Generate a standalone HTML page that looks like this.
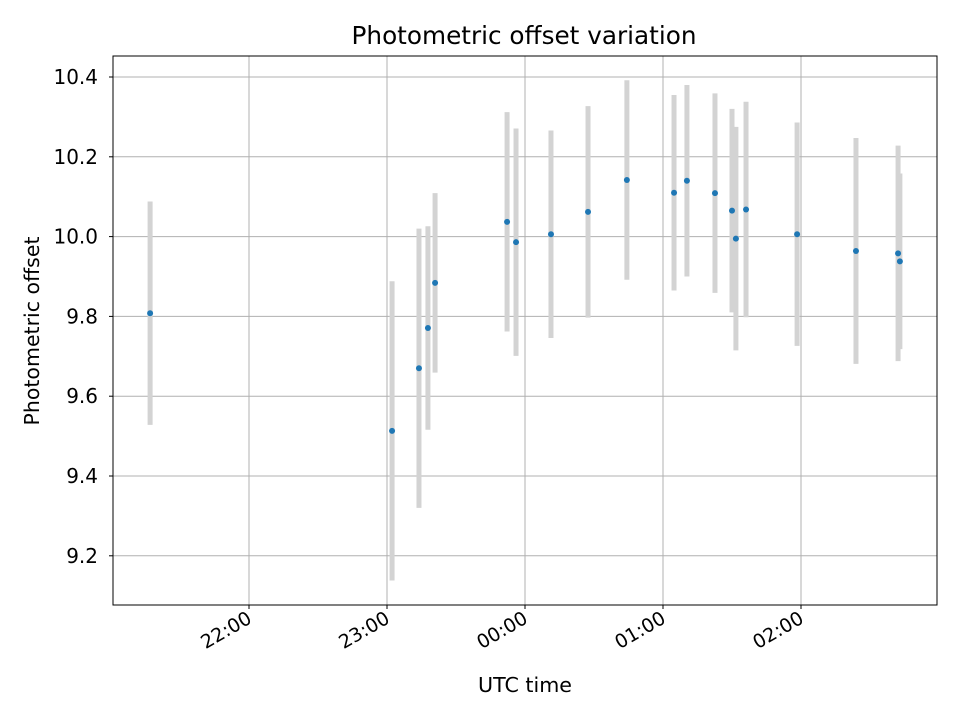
<!DOCTYPE html>
<html><head><meta charset="utf-8"><style>
body{margin:0;background:#fff;font-family:"Liberation Sans","DejaVu Sans",sans-serif}
svg text{font-family:"DejaVu Sans","Liberation Sans",sans-serif}
</style></head><body>
<svg id="chart" width="960" height="720" viewBox="0 0 960 720"></svg>
<script>
// minutes relative to 22:00 UTC
const times=[-43,62.2,73.9,77.8,80.9,112.2,116.1,131.3,147.4,164.3,184.8,190.4,202.6,210,211.7,216.1,238.3,263.9,282.2,283];
const offsets=[9.808,9.513,9.67,9.771,9.884,10.037,9.986,10.006,10.062,10.142,10.11,10.14,10.109,10.065,9.995,10.068,10.006,9.964,9.958,9.938];
const errors=[0.28,0.375,0.35,0.255,0.225,0.275,0.285,0.26,0.265,0.25,0.245,0.24,0.25,0.255,0.28,0.27,0.28,0.283,0.27,0.22];
const yTicks=[9.2,9.4,9.6,9.8,10.0,10.2,10.4];
const xTicks=[0,60,120,180,240];
const xTickLabels=["22:00","23:00","00:00","01:00","02:00"];

const L=113,R=937,T=56,B=605;
const xs=m=>249+m*138/60;
const ys=v=>77+(10.4-v)*399;
const svg=document.getElementById('chart');
const NS='http://www.w3.org/2000/svg';
function mk(tag,attrs,parent){const e=document.createElementNS(NS,tag);for(const k in attrs)e.setAttribute(k,attrs[k]);(parent||svg).appendChild(e);return e;}

yTicks.forEach((v,i)=>{
 const g=mk('line',{x1:L,x2:R,y1:ys(v),y2:ys(v),stroke:'#b0b0b0','stroke-width':1});
 
 
 const t=mk('line',{x1:L-4,x2:L,y1:ys(v),y2:ys(v),stroke:'#000'});
 
 
 const lb=mk('text',{x:L-15,y:ys(v)+7,'text-anchor':'end','font-size':20});
 lb.textContent=v.toFixed(1);
 
 
});
xTicks.forEach((m,i)=>{
 const g=mk('line',{x1:xs(m),x2:xs(m),y1:T,y2:B,stroke:'#b0b0b0','stroke-width':1});
 
 
 const t=mk('line',{x1:xs(m),x2:xs(m),y1:B,y2:B+4,stroke:'#000'});
 
 
 const ax=xs(m)+4, ay=B+17;
 const lb=mk('text',{x:ax,y:ay,'text-anchor':'end','font-size':19,transform:`rotate(-30 ${ax} ${ay})`});
 lb.textContent=xTickLabels[i];
 
 
});
times.forEach((m,i)=>{
 const e=mk('line',{x1:xs(m),x2:xs(m),y1:ys(offsets[i]+errors[i]),y2:ys(offsets[i]-errors[i]),stroke:'#d3d3d3','stroke-width':5});
 
 
});
times.forEach((m,i)=>{
 const p=mk('circle',{cx:xs(m),cy:ys(offsets[i]),r:3,fill:'#1f77b4'});
 
 
});
const fr=mk('rect',{x:L,y:T,width:R-L,height:B-T,fill:'none',stroke:'#000','stroke-width':1});


const ti=mk('text',{x:524,y:44,'text-anchor':'middle','font-size':24.5,textLength:345,lengthAdjust:'spacingAndGlyphs'});
ti.textContent='Photometric offset variation';


const xt=mk('text',{x:525,y:692,'text-anchor':'middle','font-size':20.5,textLength:94,lengthAdjust:'spacingAndGlyphs'});
xt.textContent='UTC time';


const yt=mk('text',{x:39,y:331,'text-anchor':'middle','font-size':20.5,transform:'rotate(-90 39 331)'});
yt.textContent='Photometric offset';


</script>
</body></html>
